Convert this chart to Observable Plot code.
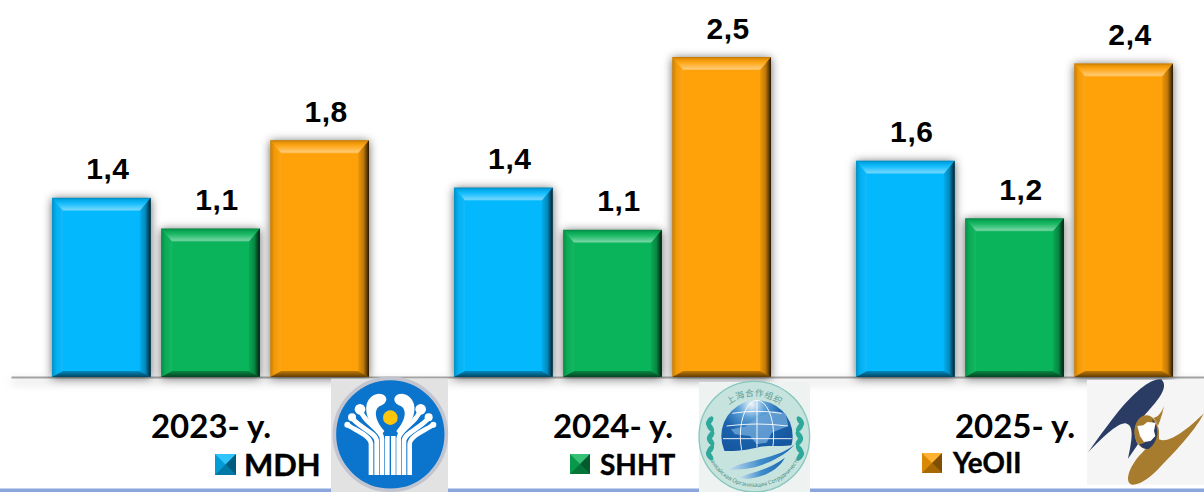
<!DOCTYPE html>
<html><head><meta charset="utf-8">
<script src="https://cdn.jsdelivr.net/npm/d3@7"></script>
<script src="https://cdn.jsdelivr.net/npm/@observablehq/plot@0.6"></script>
<style>
html,body{margin:0;padding:0;background:#fff;overflow:hidden}
#wrap{position:relative;width:1204px;height:492px;overflow:hidden}
#wrap>svg{position:absolute;left:0;top:0}
.leg{position:absolute;font-family:"Lato",sans-serif;font-weight:700;color:#000;line-height:1;white-space:nowrap;-webkit-text-stroke:.4px #000}
</style></head><body><div id="wrap"></div>
<script>
const years = ["2023","2024","2025"];
const series = ["MDH","SHHT","YeOII"];
const colors = ["#03b8fd","#0ab45a","#ffa108"];
const barValues = [
  [1.40,1.16,1.85],
  [1.48,1.15,2.50],
  [1.69,1.24,2.45]
];
const barLabels = [
  ["1,4","1,1","1,8"],
  ["1,4","1,1","2,5"],
  ["1,6","1,2","2,4"]
];
const rows = years.flatMap((y,i)=>series.map((s,j)=>({year:y,series:s,value:barValues[i][j],label:barLabels[i][j]})));

const chart = Plot.plot({
  width:1204,height:492,marginLeft:52,marginRight:31,marginTop:57,marginBottom:115,
  style:{background:"transparent",overflow:"visible"},
  fx:{domain:years,paddingInner:0.2114,paddingOuter:0,round:false,label:null},
  x:{domain:series,paddingInner:0.095,paddingOuter:0,round:false,axis:null,label:null},
  y:{domain:[0,2.5],axis:null,label:null},
  color:{domain:series,range:colors},
  marks:[
    Plot.frame({anchor:"bottom",facet:"super",stroke:"#a3a3a3",strokeWidth:2,insetLeft:-40,insetRight:-31,imageFilter:"drop-shadow(0 4px 5px rgba(0,0,0,.28))"}),
    Plot.barY(rows,{fx:"year",x:"series",y:"value",fill:"series",imageFilter:"drop-shadow(0 1px 5px rgba(0,0,0,.6))"}),
    Plot.text(rows,{fx:"year",x:"series",y:"value",text:"label",dx:6,dy:-28.5,fontSize:30,fontWeight:700,fontFamily:"Liberation Sans",fill:"#000"}),
    Plot.axisFx({anchor:"bottom",label:null,tickSize:0,tickPadding:37,fontSize:33,fontWeight:700,fontFamily:"Lato",tickFormat:d=>d+"- y.",fill:"#000",stroke:"#000",strokeWidth:.4})
  ]
});
document.getElementById("wrap").appendChild(chart);
chart.querySelectorAll('g[aria-label="text"]').forEach(g=>g.style.letterSpacing="0.6px");

// bevel overlays derived from each rendered bar
const NS="http://www.w3.org/2000/svg";
const defs=document.createElementNS(NS,"defs");
const grad=(id,x2,y2,stops)=>`<linearGradient id="${id}" x1="0" y1="0" x2="${x2}" y2="${y2}">${stops.map(([o,c,a])=>`<stop offset="${o}" stop-color="${c}" stop-opacity="${a}"/>`).join("")}</linearGradient>`;
defs.innerHTML=
  grad("bvT",0,1,[[0,"#000",.25],[.18,"#000",.08],[.45,"#fff",.08],[.9,"#fff",.42],[1,"#fff",.25]])+
  grad("bvL",1,0,[[0,"#000",.22],[.4,"#000",.04],[1,"#fff",.06]])+
  grad("bvR",1,0,[[0,"#000",.06],[.5,"#000",.25],[1,"#000",.85]])+
  grad("bvB",0,1,[[0,"#000",.25],[1,"#000",.62]]);
chart.appendChild(defs);
chart.querySelectorAll('g[aria-label="bar"] rect').forEach(r=>{
  const x=+r.getAttribute("x"),y=+r.getAttribute("y"),w=+r.getAttribute("width"),h=+r.getAttribute("height");
  const t=13,s=11,b=6;
  const L=x,R=x+w,T=y,B=y+h;
  const polys=[
    ["bvT",[[L,T],[R,T],[R-s,T+t],[L+s,T+t]]],
    ["bvL",[[L,T],[L+s,T+t],[L+s,B-b],[L,B]]],
    ["bvR",[[R,T],[R,B],[R-s,B-b],[R-s,T+t]]],
    ["bvB",[[L,B],[L+s,B-b],[R-s,B-b],[R,B]]]
  ];
  for(const [id,pts] of polys){
    const p=document.createElementNS(NS,"polygon");
    p.setAttribute("points",pts.map(q=>q.join(",")).join(" "));
    p.setAttribute("fill",`url(#${id})`);
    r.parentNode.appendChild(p);
  }
});

// legend entries under the axis
const legendSpec=[
  {left:215,top:454,size:21,tx:244,fs:31},
  {left:570,top:454,size:20,tx:600,fs:28},
  {left:922,top:453,size:20,tx:953,fs:27.7}
];
const wrap=document.getElementById("wrap");
series.forEach((s,i)=>{
  const o=legendSpec[i],c=colors[i],n=o.size;
  const sw=document.createElement("div");
  sw.style.cssText=`position:absolute;left:${o.left}px;top:${o.top}px;width:${n}px;height:${n}px`;
  sw.innerHTML=`<svg width="${n}" height="${n}" style="display:block"><rect width="${n}" height="${n}" fill="${c}"/>
  <polygon points="0,0 ${n},0 ${n/2},${n/2}" fill="#fff" opacity=".18"/>
  <polygon points="0,${n} ${n},${n} ${n/2},${n/2}" fill="#000" opacity=".35"/>
  <polygon points="${n},0 ${n},${n} ${n/2},${n/2}" fill="#000" opacity=".5"/>
  <polygon points="0,0 0,${n} ${n/2},${n/2}" fill="#000" opacity=".15"/></svg>`;
  wrap.appendChild(sw);
  const t=document.createElement("div");
  t.className="leg";t.textContent=s;
  t.style.cssText=`left:${o.tx}px;top:${o.top+n/2-o.fs*0.5}px;font-size:${o.fs}px`;
  wrap.appendChild(t);
});

// emblem illustrations and footer line (drawn at 3x, scaled down)
const art=document.createElementNS(NS,"svg");
art.setAttribute("width",1204);art.setAttribute("height",492);
const fan=`<path d="M123,297V205C123,180 80,165 50,145"/><path d="M140,297V195C140,170 85,155 63,122"/><path d="M156,297V188C156,160 98,140 88,95"/>
<circle cx="52" cy="146" r="9" fill="#fff" stroke="none"/><circle cx="66" cy="124" r="12" fill="#fff" stroke="none"/><circle cx="90" cy="100" r="16" fill="#fff" stroke="none"/>`;
const laurel=[0,1,2,3,4,5].map(i=>`<ellipse cx="${44+i*(i-5)*-0.6}" cy="${135+i*21}" rx="8" ry="16" transform="rotate(${i%2?-35:35} ${44} ${135+i*21})"/>`).join("");
const scoTop=Array.from("上海合作组织").map((ch,i)=>{
  const a=(i-2.5)*13;
  return `<text font-family="Noto Sans CJK SC" font-size="26" fill="#5e9d96" text-anchor="middle" transform="translate(178,182) rotate(${a}) translate(0,-122)">${ch}</text>`;
}).join("");
art.innerHTML=`
<defs>
<radialGradient id="gl" gradientUnits="userSpaceOnUse" cx="170" cy="85" r="150"><stop offset="0" stop-color="#eef5fb"/><stop offset=".28" stop-color="#5b9fd6"/><stop offset=".6" stop-color="#1c64ae"/><stop offset="1" stop-color="#1557a0"/></radialGradient>
<linearGradient id="wv" x1="0" x2="1"><stop offset="0" stop-color="#cfe3f2"/><stop offset=".5" stop-color="#3f8ccb"/><stop offset="1" stop-color="#1d66b0"/></linearGradient>
<clipPath id="gc"><path d="M60,60H310V205C260,215 220,205 185,215C140,225 110,225 80,225Z"/></clipPath>
<path id="arcB" d="M43,248A150,150 0 0 0 313,248"/>
</defs>
<rect x="0" y="488.5" width="1204" height="3.5" fill="#8aa6dc"/>
<g transform="translate(330,376) scale(.3333)">
  <rect x="3" y="8" width="351" height="340" fill="#e2e2e2"/>
  <circle cx="181" cy="175" r="168" fill="#0b74cc" stroke="#c2c5cf" stroke-width="11"/>
  <g fill="none" stroke="#fff" stroke-width="14" stroke-linecap="butt">
    ${fan}
    <g transform="translate(362,0) scale(-1,1)">${fan}</g>
    <path d="M172,297V180M190,297V180"/>
  </g>
  <path fill="#fff" d="M156,175C120,150 103,115 110,85C118,55 150,45 165,60C175,72 165,85 150,90C135,97 128,125 163,165Z"/>
  <path fill="#fff" d="M206,175C242,150 259,115 252,85C244,55 212,45 197,60C187,72 197,85 212,90C227,97 234,125 199,165Z"/>
  <circle cx="181" cy="125" r="22" fill="#fdc60a"/>
</g>
<g transform="translate(695,376) scale(.3333)">
  <rect x="12" y="18" width="333" height="330" fill="#eef3f2"/>
  <circle cx="178" cy="182" r="166" fill="#c6e3dd" stroke="#86c6bd" stroke-width="4"/>
  <g clip-path="url(#gc)">
    <circle cx="186" cy="180" r="107" fill="url(#gl)"/>
    <path d="M108,160L150,152 185,125 235,105 272,112 280,150 230,170 215,200 185,205 165,180 120,175Z" fill="#6aa3d6" opacity=".85"/>
    <g fill="none" stroke="#fff" stroke-width="3" opacity=".9">
      <ellipse cx="186" cy="180" rx="50" ry="107"/><line x1="186" x2="186" y1="73" y2="287"/>
      <line x1="84" x2="290" y1="188" y2="188"/><path d="M95,150Q186,138 278,150M112,112Q186,100 260,112"/>
    </g>
  </g>
  <path d="M95,285C140,250 240,255 300,205C270,240 220,262 185,272C150,282 120,278 95,285Z" fill="url(#wv)"/>
  <path d="M130,305C170,290 225,280 270,245C250,280 215,298 175,306C160,310 145,308 130,305Z" fill="url(#wv)"/>
  <g fill="#2ea89a">${laurel}<g transform="translate(360,0) scale(-1,1)">${laurel}</g></g>
  ${scoTop}
  <text font-family="Noto Sans" font-size="17" fill="#4c8f88"><textPath href="#arcB" startOffset="50%" text-anchor="middle">Шанхайская Организация Сотрудничества</textPath></text>
</g>
<rect x="1087" y="380" width="117" height="108" fill="#fff"/>
<g transform="translate(1084,376) scale(.3333)">
  <rect x="9" y="12" width="351" height="314" fill="#f5f5f5"/>
  <path fill="#2a3c63" d="M232,10C200,5 150,50 100,110C65,155 35,195 12,230C50,190 100,140 125,142C145,147 150,170 132,248L162,205C150,185 150,160 175,125C210,85 250,45 238,18Z"/>
  <path fill="#a87c2e" d="M240,90C232,110 222,125 208,125C228,150 225,170 225,190C260,205 320,150 360,112C330,170 270,230 220,282C190,312 165,326 145,326C125,322 130,290 150,260C170,228 195,218 210,180C222,150 235,120 240,90Z"/>
  <ellipse cx="187" cy="168" rx="36" ry="50" fill="#a87c2e"/>
  <path fill="#2a3c63" d="M205,128C228,155 225,195 195,218C180,222 170,212 166,204C190,205 212,170 205,128Z"/>
  <path fill="#fff" d="M160,150L178,148 190,138 215,140 210,165 214,180 200,195 180,198 168,180Z"/>
</g>`;
wrap.appendChild(art);
</script></body></html>
